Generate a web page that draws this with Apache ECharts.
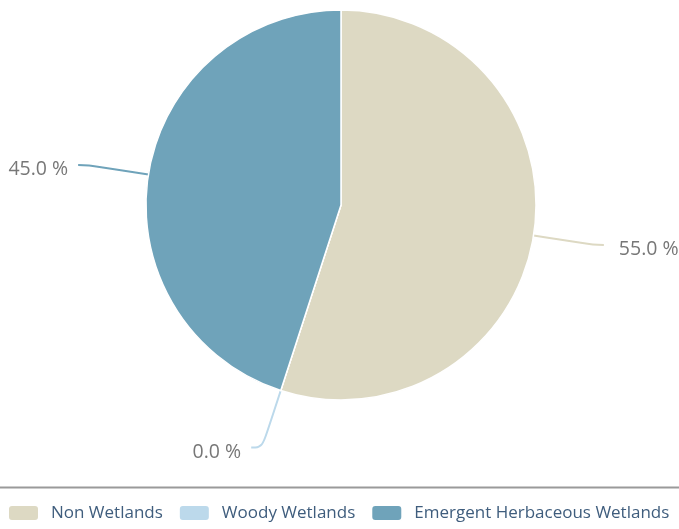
<!DOCTYPE html>
<html>
<head>
<meta charset="utf-8">
<script src="https://cdn.jsdelivr.net/npm/echarts@6/dist/echarts.min.js"></script>
<style>
html,body{margin:0;padding:0;background:#fff;}
#chart{width:679px;height:529px;}
</style>
</head>
<body>
<div id="chart"></div>
<script>
const categories = ['Non Wetlands', 'Woody Wetlands', 'Emergent Herbaceous Wetlands'];
const values = [55.0, 0.0, 45.0];
const colors = ['#DDD9C3', '#BCD9EB', '#6FA3BA'];

const chart = echarts.init(document.getElementById('chart'), null, {renderer: 'canvas'});
const data = categories.map((c, i) => ({
  name: c,
  value: values[i],
  itemStyle: {color: colors[i]},
  labelLine: {lineStyle: {color: colors[i]}},
  label: i === 0 ? {distanceToLabelLine: 15} : {}
}));

chart.setOption({
  animation: false,
  color: colors,
  graphic: [{
    type: 'line',
    shape: {x1: 0, y1: 487.5, x2: 679, y2: 487.5},
    style: {stroke: '#9a9a9a', lineWidth: 2}
  }],
  legend: {
    left: 7,
    top: 504,
    padding: 0,
    itemWidth: 31,
    itemHeight: 16,
    itemGap: 15,
    icon: 'roundRect',
    textStyle: {fontFamily: 'Open Sans', fontSize: 17, color: '#3f5d7d', padding: [0, 0, 0, 7]},
    data: categories
  },
  series: [{
    type: 'pie',
    center: [341, 205],
    radius: [0, 195],
    startAngle: 90,
    clockwise: true,
    avoidLabelOverlap: false,
    stillShowZeroSum: true,
    itemStyle: {borderColor: '#fff', borderWidth: 1.5},
    label: {
      show: true,
      formatter: p => '{t|' + p.value.toFixed(1) + ' %}',
      rich: {
        t: {fontFamily: 'Open Sans', fontSize: 19.5, color: '#777', padding: [9, 0, 0, 0]}
      },
      fontFamily: 'Open Sans',
      fontSize: 19.5,
      color: '#777',
      distanceToLabelLine: 10
    },
    labelLine: {show: true, length: 60, length2: 11, smooth: 0.4, lineStyle: {width: 2}},
    emphasis: {disabled: true},
    data: data
  }]
});
</script>
</body>
</html>
